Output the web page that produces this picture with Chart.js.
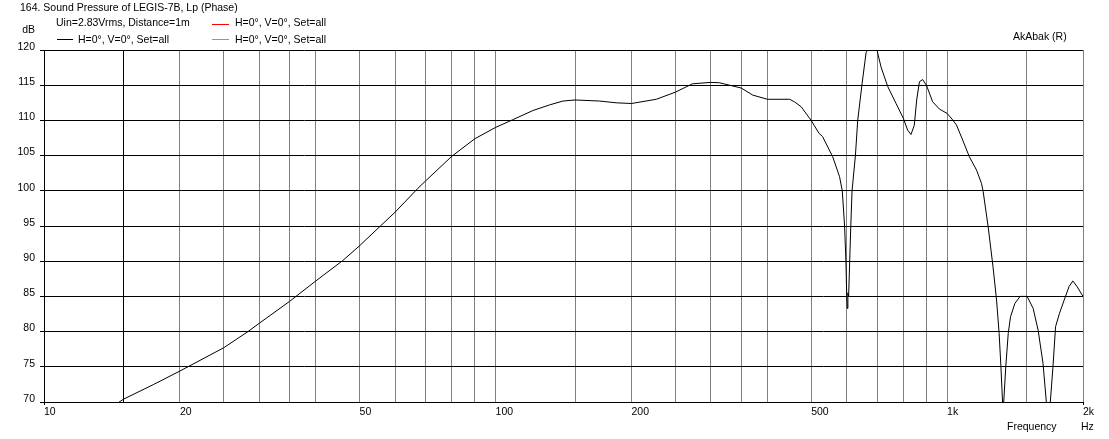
<!DOCTYPE html>
<html>
<head>
<meta charset="utf-8">
<script src="https://cdn.jsdelivr.net/npm/chart.js@4"></script>
<style>
  html, body { margin: 0; padding: 0; background: #ffffff; }
  #wrap { width: 1109px; height: 439px; position: relative; }
  canvas { display: block; }
</style>
</head>
<body>
<div id="wrap"><canvas id="c" width="1109" height="439"></canvas></div>
<script>
// ---- data ----
const freqs = [14.6, 15, 17.5, 20, 25, 28.3, 30, 35, 40, 45.9, 50, 55.6, 60, 67.3, 70, 80, 90, 100, 109.2,
  121, 131.7, 141, 150, 170, 185, 200, 227, 250, 273, 300, 313, 350, 371, 400, 448, 459, 475, 500, 520,
  530, 558, 578, 586, 593, 597, 599.5, 601, 603, 605.3, 608.6, 612, 616, 626.6, 634, 648.5, 661.6, 675, 690, 700,
  714, 739, 771, 800, 818, 832, 846, 856.5, 868.5, 883, 900, 929, 962, 1000, 1025, 1049, 1083, 1120, 1162, 1192,
  1202, 1233, 1264, 1287, 1304, 1316, 1327, 1331, 1335, 1349, 1366, 1382, 1413, 1451, 1504, 1551, 1591, 1631, 1659, 1676,
  1693, 1716, 1739, 1774, 1829, 1863, 1899, 1940, 2000];
const spl = [69.9, 70.4, 72.5, 74.4, 77.7, 80.0, 81.2, 84.3, 87.2, 90.1, 92.2, 95.0, 97.0, 100.35, 101.4, 104.9, 107.4, 109.0, 110.1,
  111.4, 112.2, 112.75, 112.9, 112.75, 112.5, 112.4, 113.0, 114.0, 115.2, 115.4, 115.35, 114.6, 113.6, 113.0, 113.0, 112.65, 111.95, 110.0, 108.2,
  107.7, 104.85, 102.0, 100.0, 95.0, 90.0, 85.0, 83.3, 85.5, 85.0, 90.0, 95.0, 100.0, 105.0, 110.0, 115.3, 119.6, 120.8, 120.6, 119.9,
  117.6, 114.8, 112.4, 110.3, 108.6, 108.0, 109.3, 112.9, 115.5, 115.8, 115.0, 112.65, 111.6, 111.0, 110.2, 109.35, 107.2, 104.85, 102.95, 101.05,
  99.9, 94.9, 89.2, 84.5, 79.75, 75.0, 70.0, 67.0, 70.0, 75.0, 79.75, 82.1, 84.0, 85.0, 85.0, 83.3, 80.2, 75.5, 70.0, 66.0,
  70.0, 75.0, 80.7, 82.6, 85.0, 86.4, 87.2, 86.4, 85.0];

const gridFreqs = [10, 15, 20, 25, 30, 35, 40, 50, 60, 70, 80, 90, 100, 150, 200, 250, 300, 350, 400, 500, 600, 700, 800, 900, 1000, 1500, 2000];
const labeledFreqs = [10, 20, 50, 100, 200, 500, 1000, 2000];
const freqLabelTexts = ['10', '20', '50', '100', '200', '500', '1k', '2k'];
const yMin = 70, yMax = 120, yStep = 5;

const titleText = '164. Sound Pressure of LEGIS-7B, Lp (Phase)';
const infoText = 'Uin=2.83Vrms, Distance=1m';
const legendText = 'H=0°, V=0°, Set=all';

const FAMILY = '"Liberation Sans", Arial, sans-serif';
const FONT = '10.5px ' + FAMILY;

const textPlugin = {
  id: 'texts',
  beforeDraw(chart) {
    const ctx = chart.ctx;
    ctx.save();
    ctx.fillStyle = '#ffffff';
    ctx.fillRect(0, 0, chart.width, chart.height);
    ctx.restore();
  },
  afterDraw(chart) {
    const ctx = chart.ctx;
    ctx.save();
    ctx.font = FONT;
    ctx.fillStyle = '#000000';
    ctx.textBaseline = 'middle';
    ctx.textAlign = 'left';
    ctx.fillText(titleText, 20, 8);
    ctx.fillText(infoText, 56, 23.5);
    ctx.fillText(legendText, 235, 23.5);
    ctx.fillText(legendText, 78, 40);
    ctx.fillText(legendText, 235, 40);
    ctx.fillText('AkAbak (R)', 1013, 37.5);
    ctx.fillText('Frequency', 1007, 427);
    ctx.fillText('Hz', 1081, 427);
    ctx.textAlign = 'right';
    ctx.fillText('dB', 35, 30);
    // legend line samples
    ctx.lineWidth = 1;
    ctx.strokeStyle = '#ff0000';
    ctx.beginPath(); ctx.moveTo(212, 24.5); ctx.lineTo(229, 24.5); ctx.stroke();
    ctx.strokeStyle = '#000000';
    ctx.beginPath(); ctx.moveTo(57, 39.5); ctx.lineTo(73, 39.5); ctx.stroke();
    ctx.strokeStyle = '#00ff00';
    ctx.beginPath(); ctx.moveTo(212, 39.5); ctx.lineTo(229, 39.5); ctx.stroke();
    ctx.restore();
  }
};

const points = freqs.map((f, i) => ({ x: f, y: spl[i] }));

new Chart(document.getElementById('c'), {
  type: 'line',
  data: {
    datasets: [{
      data: points,
      borderColor: '#000000',
      borderWidth: 1,
      pointRadius: 0,
      tension: 0,
      fill: false
    }]
  },
  options: {
    responsive: false,
    animation: false,
    events: [],
    layout: { padding: { left: 0, top: 50, right: 26, bottom: 0 } },
    plugins: { legend: { display: false }, tooltip: { enabled: false }, title: { display: false } },
    scales: {
      x: {
        type: 'logarithmic',
        min: 10,
        max: 2000,
        afterBuildTicks(scale) { scale.ticks = gridFreqs.map(v => ({ value: v })); },
        afterFit(scale) { scale.height = 37; },
        ticks: {
          autoSkip: false,
          maxRotation: 0,
          minRotation: 0,
          align: 'start',
          padding: 1,
          color: '#000000',
          font: { family: FAMILY, size: 10.5 },
          callback(value) {
            const k = labeledFreqs.indexOf(value);
            return k >= 0 ? freqLabelTexts[k] : '';
          }
        },
        grid: {
          color(ctx) {
            const v = ctx.tick && ctx.tick.value;
            return (v === 10 || v === 15) ? '#000000' : '#808080';
          },
          tickColor(ctx) {
            const v = ctx.tick && ctx.tick.value;
            return (v === 10 || v === 2000) ? '#000000' : 'rgba(0,0,0,0)';
          },
          tickLength: 3,
          lineWidth: 1
        },
        border: { color: '#000000', width: 1 }
      },
      y: {
        type: 'linear',
        min: yMin,
        max: yMax,
        afterFit(scale) { scale.width = 44; },
        ticks: {
          stepSize: yStep,
          padding: 5,
          labelOffset: -3,
          color: '#000000',
          font: { family: FAMILY, size: 10.5 }
        },
        grid: { color: '#000000', tickColor: '#000000', tickLength: 4, lineWidth: 1 },
        border: { color: '#000000', width: 1 }
      }
    }
  },
  plugins: [textPlugin]
});
</script>
</body>
</html>
